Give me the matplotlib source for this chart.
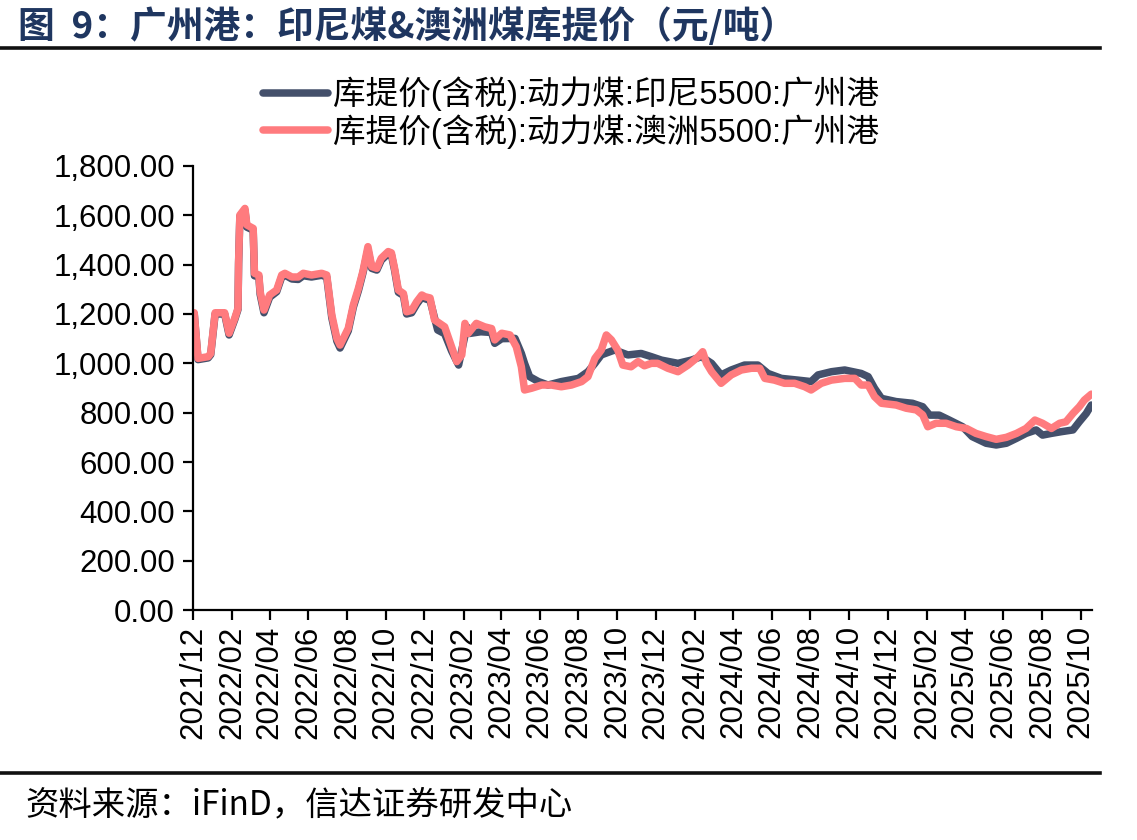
import matplotlib
matplotlib.use("Agg")
import matplotlib.pyplot as plt
import matplotlib.dates as mdates
from matplotlib.lines import Line2D
from matplotlib.ticker import FuncFormatter, MultipleLocator
import pandas as pd

plt.rcParams['font.family'] = ['Liberation Sans', 'Noto Sans CJK SC', 'DejaVu Sans']

title = "图  9：广州港：印尼煤&澳洲煤库提价（元/吨）"
source = "资料来源：iFinD，信达证券研发中心"
label_indo = "库提价(含税):动力煤:印尼5500:广州港"
label_aus = "库提价(含税):动力煤:澳洲5500:广州港"

indo_dates = [
    "2021-12-03", "2021-12-09", "2021-12-25", "2021-12-29", "2022-01-05", "2022-01-20",
    "2022-01-27", "2022-02-05", "2022-02-10", "2022-02-11", "2022-02-13", "2022-02-21",
    "2022-02-24", "2022-03-06", "2022-03-08", "2022-03-15", "2022-03-17", "2022-03-23",
    "2022-04-01", "2022-04-12", "2022-04-20", "2022-04-25", "2022-05-06", "2022-05-16",
    "2022-05-24", "2022-06-06", "2022-06-22", "2022-06-30", "2022-07-08", "2022-07-16",
    "2022-07-21", "2022-08-03", "2022-08-11", "2022-08-19", "2022-08-26", "2022-09-03",
    "2022-09-09", "2022-09-17", "2022-09-24", "2022-10-05", "2022-10-10", "2022-10-15",
    "2022-10-21", "2022-10-29", "2022-11-03", "2022-11-11", "2022-11-19", "2022-11-27",
    "2022-12-02", "2022-12-10", "2022-12-22", "2023-01-02", "2023-01-13", "2023-01-24",
    "2023-02-06", "2023-02-10", "2023-02-28", "2023-03-17", "2023-03-22", "2023-04-02",
    "2023-04-23", "2023-05-03", "2023-05-08", "2023-05-16", "2023-05-30", "2023-06-14",
    "2023-07-05", "2023-08-01", "2023-08-16", "2023-08-27", "2023-09-06", "2023-09-27",
    "2023-10-18", "2023-11-08", "2023-11-24", "2023-12-10", "2024-01-05", "2024-01-26",
    "2024-02-11", "2024-02-27", "2024-03-13", "2024-03-29", "2024-04-19", "2024-05-10",
    "2024-05-26", "2024-06-16", "2024-07-12", "2024-08-02", "2024-08-13", "2024-09-03",
    "2024-09-24", "2024-10-20", "2024-10-31", "2024-11-10", "2024-11-21", "2024-12-14",
    "2025-01-09", "2025-01-25", "2025-02-05", "2025-02-20", "2025-03-08", "2025-03-29",
    "2025-04-13", "2025-05-05", "2025-05-21", "2025-06-06", "2025-06-22", "2025-07-07",
    "2025-07-23", "2025-08-02", "2025-08-16", "2025-09-01", "2025-09-19", "2025-09-29",
    "2025-10-10", "2025-10-18",
]
indo_values = [
    1200, 1015, 1022, 1035, 1200, 1200,
    1115, 1178, 1218, 1405, 1595, 1620,
    1552, 1540, 1355, 1350, 1280, 1205,
    1268, 1290, 1350, 1358, 1342, 1340,
    1355, 1350, 1357, 1350, 1185, 1090,
    1062, 1132, 1228, 1295, 1365, 1460,
    1385, 1378, 1418, 1445, 1440, 1378,
    1288, 1275, 1200, 1205, 1240, 1268,
    1262, 1255, 1135, 1120, 1050, 993,
    1148, 1121, 1128, 1125, 1081, 1100,
    1101, 1040, 1000, 946, 926, 912,
    926, 939, 966, 1000, 1034, 1054,
    1034, 1040, 1027, 1013, 1000, 1013,
    1027, 1000, 953, 973, 993, 993,
    959, 939, 932, 926, 953, 966,
    973, 959, 946, 899, 858, 845,
    838, 824, 790, 790, 770, 743,
    703, 676, 669, 676, 696, 716,
    730, 709, 716, 723, 730, 763,
    797, 831,
]

aus_dates = [
    "2021-12-03", "2021-12-09", "2021-12-25", "2021-12-29", "2022-01-05", "2022-01-20",
    "2022-01-27", "2022-02-05", "2022-02-10", "2022-02-11", "2022-02-13", "2022-02-21",
    "2022-02-24", "2022-03-06", "2022-03-08", "2022-03-15", "2022-03-17", "2022-03-23",
    "2022-04-01", "2022-04-12", "2022-04-20", "2022-04-25", "2022-05-06", "2022-05-16",
    "2022-05-24", "2022-06-06", "2022-06-22", "2022-06-30", "2022-07-08", "2022-07-16",
    "2022-07-21", "2022-08-03", "2022-08-11", "2022-08-19", "2022-08-26", "2022-09-03",
    "2022-09-09", "2022-09-17", "2022-09-24", "2022-10-05", "2022-10-10", "2022-10-15",
    "2022-10-21", "2022-10-29", "2022-11-03", "2022-11-11", "2022-11-19", "2022-11-27",
    "2022-12-02", "2022-12-10", "2022-12-17", "2023-01-02", "2023-01-13", "2023-01-21",
    "2023-01-29", "2023-02-03", "2023-02-08", "2023-02-21", "2023-03-06", "2023-03-17",
    "2023-03-22", "2023-04-02", "2023-04-15", "2023-04-25", "2023-05-03", "2023-05-08",
    "2023-05-19", "2023-06-04", "2023-06-19", "2023-07-05", "2023-07-21", "2023-08-06",
    "2023-08-16", "2023-08-27", "2023-09-06", "2023-09-14", "2023-09-22", "2023-10-02",
    "2023-10-10", "2023-10-23", "2023-11-03", "2023-11-13", "2023-11-24", "2023-12-04",
    "2023-12-20", "2024-01-05", "2024-01-21", "2024-02-06", "2024-02-13", "2024-02-19",
    "2024-02-27", "2024-03-13", "2024-03-29", "2024-04-14", "2024-04-30", "2024-05-13",
    "2024-05-21", "2024-06-05", "2024-06-21", "2024-07-07", "2024-07-23", "2024-08-02",
    "2024-08-18", "2024-09-03", "2024-09-24", "2024-10-10", "2024-10-20", "2024-10-31",
    "2024-11-10", "2024-11-21", "2024-12-14", "2024-12-30", "2025-01-15", "2025-01-25",
    "2025-02-02", "2025-02-15", "2025-03-03", "2025-03-19", "2025-04-04", "2025-04-19",
    "2025-05-05", "2025-05-21", "2025-06-06", "2025-06-22", "2025-07-07", "2025-07-21",
    "2025-08-02", "2025-08-16", "2025-08-29", "2025-09-08", "2025-09-19", "2025-09-29",
    "2025-10-07", "2025-10-18",
]
aus_values = [
    1205, 1020, 1027, 1040, 1205, 1205,
    1122, 1183, 1223, 1412, 1601, 1628,
    1561, 1547, 1365, 1358, 1290, 1216,
    1277, 1297, 1358, 1365, 1350, 1350,
    1365, 1358, 1365, 1358, 1196, 1101,
    1074, 1142, 1237, 1304, 1372, 1473,
    1392, 1385, 1426, 1453, 1448, 1385,
    1297, 1283, 1209, 1215, 1250, 1277,
    1270, 1265, 1176, 1148, 1067, 1007,
    1034, 1162, 1121, 1162, 1148, 1141,
    1095, 1122, 1115, 1067, 986, 892,
    899, 912, 912, 905, 912, 926,
    946, 1020, 1054, 1115, 1095, 1054,
    993, 986, 1007, 990, 1000, 1000,
    980, 966, 993, 1027, 1047, 1000,
    966, 919, 953, 973, 980, 980,
    939, 932, 919, 919, 905, 892,
    919, 932, 939, 939, 912, 912,
    865, 838, 831, 818, 811, 791,
    743, 757, 757, 743, 736, 716,
    703, 692, 700, 716, 736, 770,
    757, 736, 757, 763, 797, 824,
    851, 875,
]

x_start = "2021-12-01"
x_end = "2025-10-19"

fig = plt.figure(figsize=(11.37, 8.40), dpi=100)
ax = fig.add_axes([0.1697, 0.2738, 0.7907, 0.5286])

navy = "#44506B"
pink = "#FF7B7E"
l1, = ax.plot(pd.to_datetime(indo_dates), indo_values, color=navy, lw=5.4,
              solid_joinstyle='round', solid_capstyle='round', label=label_indo)
l2, = ax.plot(pd.to_datetime(aus_dates), aus_values, color=pink, lw=5.4,
              solid_joinstyle='round', solid_capstyle='round', label=label_aus)

ax.set_ylim(0, 1800)
ax.set_xlim(pd.Timestamp(x_start), pd.Timestamp(x_end))
ax.yaxis.set_major_locator(MultipleLocator(200))
ax.yaxis.set_major_formatter(FuncFormatter(lambda v, p: f"{v:,.2f}"))
ax.xaxis.set_major_locator(mdates.MonthLocator(bymonth=[2, 4, 6, 8, 10, 12]))
ax.xaxis.set_major_formatter(mdates.DateFormatter("%Y/%m"))
for s in ["top", "right"]:
    ax.spines[s].set_visible(False)
for s in ["left", "bottom"]:
    ax.spines[s].set_linewidth(1.6)
    ax.spines[s].set_color("black")
ax.tick_params(axis="both", direction="out", length=7, width=1.6, labelsize=22.5,
               colors="black")
ax.tick_params(axis="x", rotation=90, pad=4)
ax.tick_params(axis="y", pad=6)

fig.legend(handles=[l1, l2], loc="upper center", bbox_to_anchor=(0.502, 0.928),
           frameon=False, fontsize=23.5, handlelength=2.0, handletextpad=0.15,
           labelspacing=0.08, borderpad=0)

fig.text(18 / 1137, 1 - 27 / 840, title, fontsize=26.5, fontweight="bold",
         color="#1F3660", va="center", ha="left",
         family=["Noto Sans CJK SC", "DejaVu Sans"])
fig.add_artist(Line2D([0, 1100 / 1137], [1 - 48 / 840] * 2, color="#111111", lw=2.6))
fig.add_artist(Line2D([0, 1100 / 1137], [1 - 773 / 840] * 2, color="#111111", lw=2.6))
fig.text(25 / 1137, 1 - 805 / 840, source, fontsize=24, style="italic",
         color="black", va="center", ha="left",
         family=["Noto Sans CJK SC", "DejaVu Sans"])

fig.savefig("out.png", dpi=100)
